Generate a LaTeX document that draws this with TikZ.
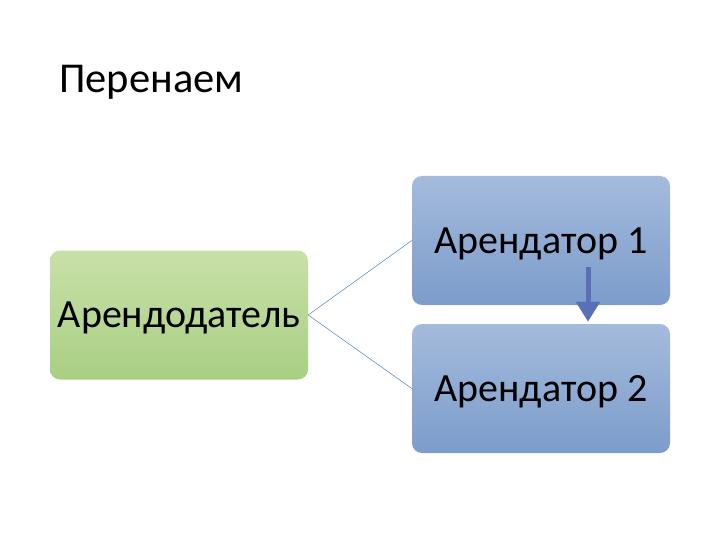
\documentclass[tikz,border=0pt]{standalone}
\usepackage{fontspec}
\setmainfont{Carlito}
\usetikzlibrary{arrows.meta}
\definecolor{greentop}{HTML}{C8E0A9}
\definecolor{greenbot}{HTML}{A9CF82}
\definecolor{bluetop}{HTML}{A4BBDC}
\definecolor{bluebot}{HTML}{7C9CCB}
\definecolor{linkblue}{HTML}{4F81BD}
\definecolor{flowblue}{HTML}{5A70B6}
\begin{document}
\begin{tikzpicture}[x=1pt,y=-1pt,
  box/.style={rectangle, rounded corners=10pt, minimum width=258pt, minimum height=129pt,
    inner sep=0pt, text height=25.8pt, text depth=0pt, font=\fontsize{40}{40}\selectfont},
  landlord/.style={box, top color=greentop, bottom color=greenbot},
  tenant/.style={box, top color=bluetop, bottom color=bluebot},
  link/.style={draw=linkblue, line width=0.5pt},
  flow/.style={draw=flowblue, line width=5pt, -{Triangle[width=23pt,length=20pt]}}]
\useasboundingbox (0,0) rectangle (720,540);
\node[anchor=base west, inner sep=0pt, font=\fontsize{42.5}{42.5}\selectfont] (title) at (59,93) {Перенаем};
\node[landlord] (ll) at (179,315) {Арендодатель};
\node[tenant] (t1) at (541,240.5) {Арендатор 1};
\node[tenant] (t2) at (541,388.5) {Арендатор 2};
\draw[link] (ll.east) -- (t1.west);
\draw[link] (ll.east) -- (t2.west);
\draw[flow] ([xshift=47pt,yshift=38pt]t1.south) -- ([xshift=47pt,yshift=2pt]t2.north);
\end{tikzpicture}
\end{document}
